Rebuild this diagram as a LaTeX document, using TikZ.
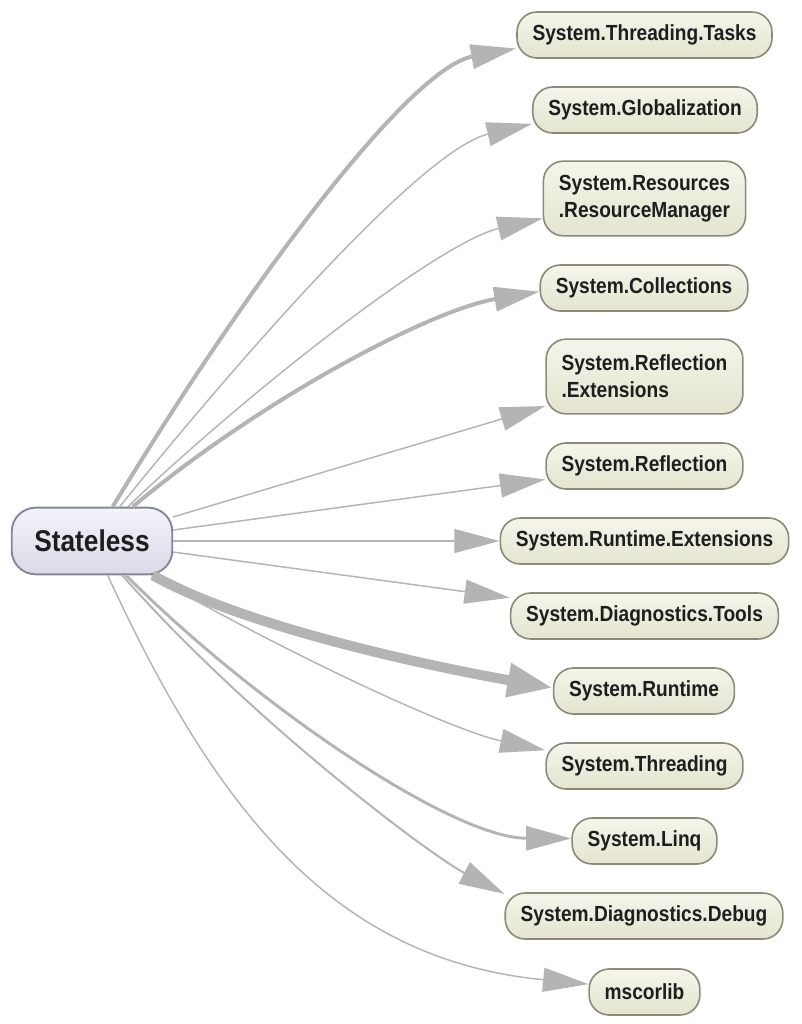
\documentclass[tikz,border=0pt]{standalone}
\usepackage{fontspec}
\setmainfont{Liberation Sans}[FakeStretch=0.875]
\usetikzlibrary{arrows.meta}
\definecolor{edgegray}{HTML}{B4B4B4}
\definecolor{tgtborder}{HTML}{8A8A78}
\definecolor{tgttop}{HTML}{F5F5EA}
\definecolor{tgtbot}{HTML}{E4E4D0}
\definecolor{srcborder}{HTML}{85859A}
\definecolor{srctop}{HTML}{F3F3FA}
\definecolor{srcbot}{HTML}{DADAE8}
\definecolor{txt}{HTML}{1E1E1E}
\begin{document}
\begin{tikzpicture}[x=0.75pt,y=-0.75pt,
  tgt/.style={rectangle, rounded corners=15pt, draw=tgtborder, line width=1.2pt,
    top color=tgttop, bottom color=tgtbot,
    font=\fontsize{16.4pt}{20pt}\selectfont\bfseries, text=txt,
    inner xsep=11.6pt, inner ysep=0pt, minimum height=34.5pt, align=left},
  tgttwo/.style={tgt, minimum height=56pt},
  src/.style={rectangle, rounded corners=18pt, draw=srcborder, line width=1.4pt,
    top color=srctop, bottom color=srcbot,
    font=\fontsize{22.5pt}{24pt}\selectfont\bfseries, text=txt,
    inner xsep=17pt, inner ysep=0pt, minimum height=50pt},
  dep/.style={draw=edgegray, line width=1.1pt, -{Triangle[length=34pt,width=18pt]}},
  bigdep/.style={draw=edgegray, line width=7.5pt, -{Triangle[length=34pt,width=24pt]}}
]
\useasboundingbox (0,0) rectangle (802,1024);

\node[src] (s) at (92,541) {Stateless};

\node[tgt] (tasks) at (644.5,35) {System.Threading.Tasks};
\node[tgt] (glob) at (645,110) {System.Globalization};
\node[tgttwo] (res) at (644.5,198.5) {System.Resources\\.ResourceManager};
\node[tgt] (col) at (644,288) {System.Collections};
\node[tgttwo] (refext) at (644.5,376.5) {System.Reflection\\.Extensions};
\node[tgt] (ref) at (644.5,466) {System.Reflection};
\node[tgt] (rtext) at (644.5,541) {System.Runtime.Extensions};
\node[tgt] (diag) at (644.5,616) {System.Diagnostics.Tools};
\node[tgt] (rt) at (644,691) {System.Runtime};
\node[tgt] (thr) at (644.5,766) {System.Threading};
\node[tgt] (linq) at (644.5,841) {System.Linq};
\node[tgt] (dbg) at (644,916) {System.Diagnostics.Debug};
\node[tgt] (msc) at (644.5,992) {mscorlib};

\draw[dep, line width=3pt] (s) .. controls (250,280) and (410,68) .. (tasks.186);
\draw[dep] (s) .. controls (230,370) and (420,150) .. (glob.187);
\draw[dep] (s) .. controls (250,390) and (440,242) .. (res.191);
\draw[dep, line width=3pt] (s) .. controls (260,400) and (430,310) .. (col.182);
\draw[dep] (s) -- (refext);
\draw[dep] (s) -- (ref);
\draw[dep] (s) -- (rtext);
\draw[dep] (s) -- (diag);
\draw[bigdep] (s) .. controls (250,630) and (450,670) .. (rt.178);
\draw[dep] (s) .. controls (280,650) and (450,730) .. (thr.171);
\draw[dep, line width=2.2pt] (s) .. controls (250,700) and (450,838) .. (linq.178);
\draw[dep, line width=1.5pt] (s) .. controls (250,720) and (430,855) .. (dbg.171);
\draw[dep] (s) .. controls (220,820) and (340,960) .. (msc.172);
\end{tikzpicture}
\end{document}
